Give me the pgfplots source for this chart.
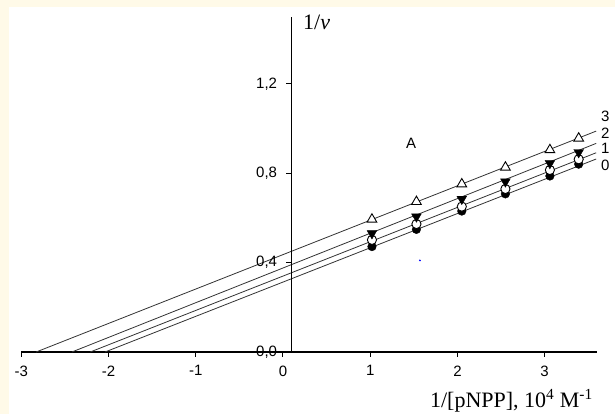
\documentclass[border=0pt]{standalone}
\usepackage{pgfplots}
\pgfplotsset{compat=1.18}
\usepackage{fontspec}
\setmainfont{Liberation Serif}
\newfontfamily\arial{Liberation Sans}
\definecolor{cream}{RGB}{255,250,232}

\begin{document}
\begin{tikzpicture}[x=1pt,y=1pt]
\useasboundingbox (0,0) rectangle (615,414);
\fill[cream] (0,0) rectangle (615,414);
\fill[white] (9,0) rectangle (615,407);
\clip (0,0) rectangle (615,414);
\begin{axis}[
    at={(21.3pt,62pt)}, anchor=south west,
    scale only axis, width=575.7pt, height=335pt,
    xmin=-3, xmax=3.6, ymin=0, ymax=1.5,
    axis x line*=bottom, axis y line=none,
    axis line style={black, line width=1.1pt},
    xtick={-3,-2,-1,0,1,2,3},
    xticklabels={-3,-2,-1,0,1,2,3},
    xtick pos=bottom,
    tick align=outside, major tick length=5pt,
    tick style={black, line width=1pt},
    xticklabel style={font=\arial\fontsize{15}{17}\selectfont, yshift=-5pt},
    clip=false,
]
% fitted lines
\addplot[no marks, black!80, line width=0.8pt] coordinates {(-2.04,0) (3.59,0.864)};
\addplot[no marks, black!80, line width=0.8pt] coordinates {(-2.21,0) (3.59,0.892)};
\addplot[no marks, black!80, line width=0.8pt] coordinates {(-2.42,0) (3.59,0.934)};
\addplot[no marks, black!80, line width=0.8pt] coordinates {(-2.83,0) (3.59,0.989)};
% data points
\addplot[only marks, mark=*, mark size=4.3pt, mark options={fill=black, draw=black}] coordinates {
  (1.02,0.472) (1.53,0.549) (2.05,0.631) (2.55,0.708) (3.06,0.788) (3.39,0.841)};
\addplot[only marks, mark=*, mark size=4.6pt, mark options={fill=white, draw=black, line width=0.9pt}] coordinates {
  (1.02,0.502) (1.53,0.573) (2.05,0.651) (2.55,0.730) (3.06,0.815) (3.39,0.863)};
\addplot[only marks, mark=triangle*, mark size=5.6pt, mark options={rotate=180, fill=black, draw=black}] coordinates {
  (1.02,0.531) (1.53,0.606) (2.05,0.685) (2.55,0.763) (3.06,0.845) (3.39,0.894)};
\addplot[only marks, mark=triangle*, mark size=5.6pt, mark options={fill=white, draw=black, line width=0.9pt}] coordinates {
  (1.02,0.594) (1.53,0.673) (2.05,0.752) (2.55,0.827) (3.06,0.905) (3.39,0.957)};
\addplot[only marks, mark=*, mark size=0.7pt, blue] coordinates {(1.57,0.41)};
% y axis at x = 0.1
\draw[black, line width=1.1pt] (axis cs:0.098,0) -- (axis cs:0.098,1.5);
\draw[black, line width=1pt] (axis cs:0.098,0) -- ++(-6pt,0pt) node[anchor=east, inner sep=0pt, xshift=-8pt, font=\arial\fontsize{15}{17}\selectfont] {0,0};
\draw[black, line width=1pt] (axis cs:0.098,0.4) -- ++(-6pt,0pt) node[anchor=east, inner sep=0pt, xshift=-8pt, font=\arial\fontsize{15}{17}\selectfont] {0,4};
\draw[black, line width=1pt] (axis cs:0.098,0.8) -- ++(-6pt,0pt) node[anchor=east, inner sep=0pt, xshift=-8pt, font=\arial\fontsize{15}{17}\selectfont] {0,8};
\draw[black, line width=1pt] (axis cs:0.098,1.2) -- ++(-6pt,0pt) node[anchor=east, inner sep=0pt, xshift=-8pt, font=\arial\fontsize{15}{17}\selectfont] {1,2};
% labels
\node[anchor=west, inner sep=0pt, font=\fontsize{22}{22}\selectfont] at (axis cs:0.229,1.476) {1/\textit{v}};
\node[anchor=east, inner sep=0pt, font=\fontsize{22}{22}\selectfont] at (axis cs:3.554,-0.219) {1/[pNPP], 10\textsuperscript{4} M\textsuperscript{-1}};
\node[font=\arial\fontsize{15}{17}\selectfont] at (axis cs:1.47,0.936) {A};
\node[anchor=west, inner sep=0pt, font=\arial\fontsize{15}{17}\selectfont] at (axis cs:3.646,1.054) {3};
\node[anchor=west, inner sep=0pt, font=\arial\fontsize{15}{17}\selectfont] at (axis cs:3.646,0.978) {2};
\node[anchor=west, inner sep=0pt, font=\arial\fontsize{15}{17}\selectfont] at (axis cs:3.646,0.910) {1};
\node[anchor=west, inner sep=0pt, font=\arial\fontsize{15}{17}\selectfont] at (axis cs:3.646,0.837) {0};
\end{axis}
\end{tikzpicture}
\end{document}
